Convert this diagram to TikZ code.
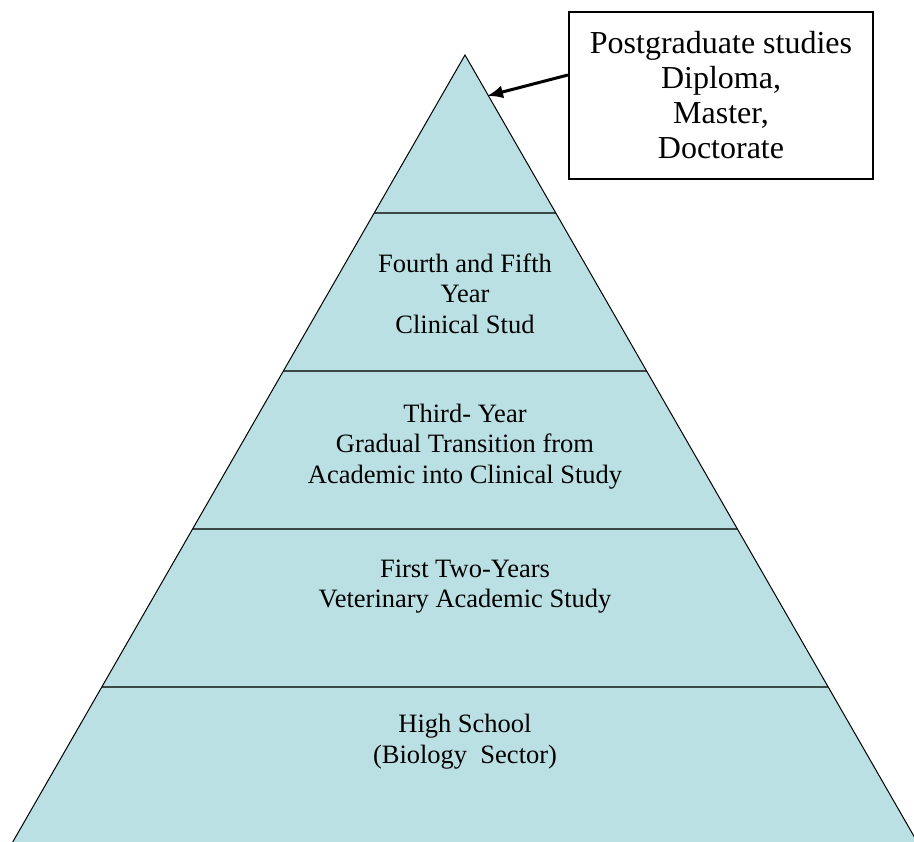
\documentclass[tikz,border=0pt]{standalone}
\usepackage{fontspec}
\setmainfont{Liberation Serif}
\usetikzlibrary{calc,arrows.meta}
\definecolor{pyfill}{RGB}{187,224,227}
\definecolor{divline}{RGB}{58,72,72}
\tikzset{
  bandtext/.style={align=center, font=\fontsize{26.5}{30.5}\selectfont, inner sep=0pt},
  divider/.style={draw=divline, line width=2.6pt},
  pyedge/.style={draw=black, line width=1pt},
  callout/.style={draw=black, line width=2pt, fill=white, minimum width=304pt, minimum height=167pt,
    align=center, font=\fontsize{32}{35}\selectfont, inner sep=0pt},
  pointer/.style={-{Latex[length=16pt,width=13pt]}, line width=3pt}
}
\begin{document}
\begin{tikzpicture}[x=1pt,y=-1pt]
\useasboundingbox (0,0) rectangle (914,842);
\coordinate (apex) at (465,55);
\coordinate (bl) at (11,845);
\coordinate (br) at (919,845);
\fill[pyfill] (apex) -- (bl) -- (br) -- cycle;
\foreach \t/\n in {0.2/a,0.4/b,0.6/c,0.8/d} {
  \coordinate (L\n) at ($(apex)!\t!(bl)$);
  \coordinate (R\n) at ($(apex)!\t!(br)$);
  \draw[divider] (L\n) -- (R\n);
}
\draw[pyedge] (bl) -- (apex) -- (br);
\node[bandtext] (fourth) at (465,293.5) {Fourth and Fifth\\Year\\Clinical Stud};
\node[bandtext] (third) at (465,446.5) {Third- Year\\Gradual Transition from\\Academic into Clinical Study};
\node[bandtext] (first) at (465,586.5) {First Two-Years\\Veterinary Academic Study};
\node[bandtext] (high) at (465,741.5) {High School\\(Biology\ \ Sector)};
\node[callout] (post) at (721,95.5) {Postgraduate studies\\Diploma,\\Master,\\Doctorate};
\coordinate (tip) at (487,96);
\draw[pointer] ([yshift=20.5pt]post.west) -- (tip);
\end{tikzpicture}
\end{document}
